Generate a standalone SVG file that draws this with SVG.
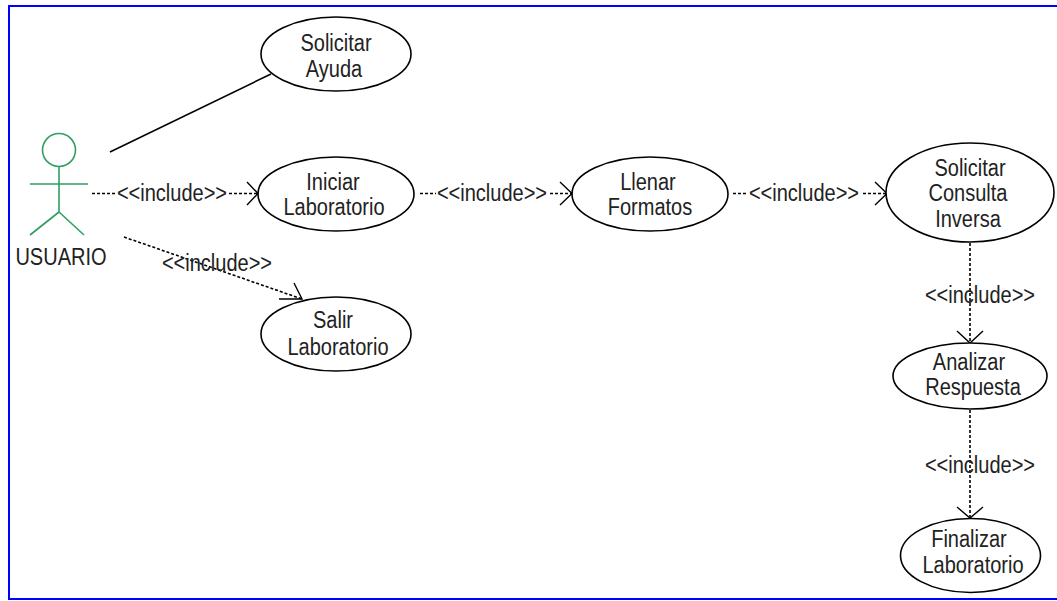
<svg xmlns="http://www.w3.org/2000/svg" width="1057" height="601" viewBox="0 0 1057 601">
<style>
.bg{fill:#fff}
.frame{fill:#fff;stroke:#0000ff;stroke-width:2}
ellipse{fill:#fff;stroke:#000;stroke-width:1.6}
text{font-family:"Liberation Sans",Arial,sans-serif;font-size:23px;fill:#222;text-anchor:middle;transform-box:fill-box;transform-origin:center;transform:scaleX(.87)}
.actor{fill:none;stroke:#2e9e62;stroke-width:1.6}
.solid{fill:none;stroke:#000;stroke-width:1.6}
.dash{fill:none;stroke:#000;stroke-width:1.6;stroke-dasharray:3 2}
.head{fill:none;stroke:#000;stroke-width:1.4}
</style>
<rect class="bg" width="1057" height="601"/>
<rect class="frame" x="9" y="6" width="1050" height="593"/>
<g id="connectors">
<path class="solid" d="M110 152L271 74"/>
<path class="dash" d="M92 193.5H115M229 193.5H258"/>
<path class="head" d="M247 182L258 193.5L247 205"/>
<path class="dash" d="M420 193.5H436M550 193.5H572"/>
<path class="head" d="M560 182L572 193.5L560 205"/>
<path class="dash" d="M733 193.5H746M863 193.5H887"/>
<path class="head" d="M875 182L887 193.5L875 205"/>
<path class="dash" d="M124 237L302 299"/>
<path class="head" d="M294 283L302 299L279 299"/>
<path class="dash" d="M970 243V343"/>
<path class="head" d="M957 331L970 343L983 331"/>
<path class="dash" d="M970 410V518"/>
<path class="head" d="M957 507L970 518L983 507"/>
</g>
<g id="labels">
<text x="172" y="201">&lt;&lt;include&gt;&gt;</text>
<text x="492" y="201">&lt;&lt;include&gt;&gt;</text>
<text x="804" y="201">&lt;&lt;include&gt;&gt;</text>
<text x="217" y="271">&lt;&lt;include&gt;&gt;</text>
<text x="980" y="303">&lt;&lt;include&gt;&gt;</text>
<text x="980" y="473">&lt;&lt;include&gt;&gt;</text>
</g>
<g id="actor-usuario">
<circle class="actor" cx="59" cy="150" r="16.5"/>
<path class="actor" d="M59 166V212M30 184H88M59 212L30 235M59 212L84 235"/>
<text x="61" y="265">USUARIO</text>
</g>
<g id="uc-solicitar-ayuda">
<ellipse cx="336" cy="54" rx="75" ry="37"/>
<text x="336" y="51">Solicitar</text><text x="334" y="77">Ayuda</text>
</g>
<g id="uc-iniciar-laboratorio">
<ellipse cx="336" cy="194" rx="78" ry="37"/>
<text x="333" y="190">Iniciar</text><text x="334" y="215">Laboratorio</text>
</g>
<g id="uc-salir-laboratorio">
<ellipse cx="336" cy="334" rx="75" ry="37"/>
<text x="333" y="328">Salir</text><text x="338" y="355">Laboratorio</text>
</g>
<g id="uc-llenar-formatos">
<ellipse cx="650" cy="194" rx="78" ry="37"/>
<text x="648" y="190">Llenar</text><text x="650" y="215">Formatos</text>
</g>
<g id="uc-solicitar-consulta">
<ellipse cx="970" cy="192.5" rx="84" ry="49.5"/>
<text x="970" y="176">Solicitar</text><text x="968" y="201">Consulta</text><text x="968" y="227">Inversa</text>
</g>
<g id="uc-analizar-respuesta">
<ellipse cx="970" cy="376" rx="77" ry="33"/>
<text x="969" y="370">Analizar</text><text x="973" y="395">Respuesta</text>
</g>
<g id="uc-finalizar-laboratorio">
<ellipse cx="970.5" cy="555.5" rx="70" ry="37"/>
<text x="969" y="547">Finalizar</text><text x="973" y="573">Laboratorio</text>
</g>
</svg>
